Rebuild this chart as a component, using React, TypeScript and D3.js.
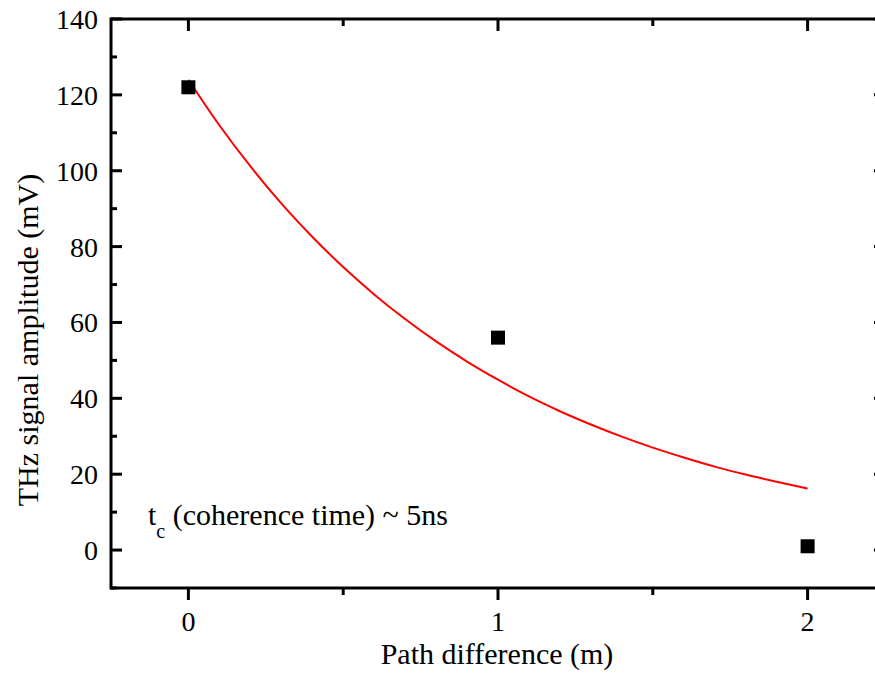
import React from "react";
import * as d3 from "d3";

const pathDiff = [0, 1, 2];
const amplitude = [122, 56, 1];

// fitted curve, values
const fitX = [0, 0.1, 0.2, 0.3, 0.4, 0.5, 0.6, 0.7, 0.8, 0.9, 1.0, 1.1, 1.2, 1.3, 1.4, 1.5, 1.6, 1.7, 1.8, 1.9, 2.0];
const fitY = [124, 112, 101.2, 91.4, 82.6, 74.6, 67.4, 60.9, 55, 49.7, 44.9, 40.5, 36.6, 33.1, 29.9, 27, 24.4, 22, 19.9, 18, 16.2];

const xMajor = [0, 1, 2];
const xMinor = [-0.5, 0.5, 1.5];
const yMajor = [0, 20, 40, 60, 80, 100, 120, 140];
const yMinor = [-10, 10, 30, 50, 70, 90, 110, 130];

const W = 875, H = 675;
const left = 111, right = 885, top = 19, bottom = 588;

export default function App() {
  const x = d3.scaleLinear().domain([-0.25, 2.25]).range([left, right]);
  const y = d3.scaleLinear().domain([-10, 140]).range([bottom, top]);
  const line = d3.line<number>().x((_, i) => x(fitX[i])).y((d) => y(d)).curve(d3.curveMonotoneX);
  const font = "Liberation Serif, DejaVu Serif, serif";
  const inX = (v: number) => v >= -0.25 && v <= 2.25;
  const inY = (v: number) => v >= -10 && v <= 140;
  const sq = 14;
  return (
    <svg width={W} height={H} style={{ position: "absolute", left: 0, top: 0, background: "#fff", fontFamily: font }}>
      <rect x={0} y={0} width={W} height={H} fill="#fff" />
      {/* fit curve */}
      <path d={line(fitY) || ""} fill="none" stroke="#ff0000" strokeWidth={2} />
      {/* points */}
      {pathDiff.map((d, i) => (
        <rect key={i} x={x(d) - sq / 2} y={y(amplitude[i]) - sq / 2} width={sq} height={sq} fill="#000" />
      ))}
      {/* frame */}
      <line x1={left} x2={right} y1={top} y2={top} stroke="#000" strokeWidth={3} />
      <line x1={left} x2={right} y1={bottom} y2={bottom} stroke="#000" strokeWidth={3} />
      <line x1={left} x2={left} y1={top - 1.5} y2={bottom + 1.5} stroke="#000" strokeWidth={3} />
      <line x1={right} x2={right} y1={top - 1.5} y2={bottom + 1.5} stroke="#000" strokeWidth={3} />
      {/* x ticks */}
      {xMajor.map((v) => (
        <g key={"xm" + v}>
          <line x1={x(v)} x2={x(v)} y1={bottom} y2={bottom + 12} stroke="#000" strokeWidth={3} />
          <line x1={x(v)} x2={x(v)} y1={top} y2={top + 12} stroke="#000" strokeWidth={3} />
          <text x={x(v)} y={631} textAnchor="middle" fontSize={28} style={{ fontFamily: font }}>{v}</text>
        </g>
      ))}
      {xMinor.filter(inX).map((v) => (
        <g key={"xn" + v}>
          <line x1={x(v)} x2={x(v)} y1={bottom} y2={bottom + 7} stroke="#000" strokeWidth={3} />
          <line x1={x(v)} x2={x(v)} y1={top} y2={top + 7} stroke="#000" strokeWidth={3} />
        </g>
      ))}
      {/* y ticks */}
      {yMajor.map((v) => (
        <g key={"ym" + v}>
          <line x1={left} x2={left + 11} y1={y(v)} y2={y(v)} stroke="#000" strokeWidth={3} />
          <line x1={right} x2={right - 11} y1={y(v)} y2={y(v)} stroke="#000" strokeWidth={3} />
          <text x={98} y={y(v) + 10} textAnchor="end" fontSize={28} style={{ fontFamily: font }}>{v}</text>
        </g>
      ))}
      {yMinor.filter(inY).map((v) => (
        <g key={"yn" + v}>
          <line x1={left} x2={left + 6} y1={y(v)} y2={y(v)} stroke="#000" strokeWidth={3} />
          <line x1={right} x2={right - 6} y1={y(v)} y2={y(v)} stroke="#000" strokeWidth={3} />
        </g>
      ))}
      {/* axis titles */}
      <text x={497} y={664} textAnchor="middle" fontSize={30} style={{ fontFamily: font }}>Path difference (m)</text>
      <text transform={`translate(38,340) rotate(-90)`} textAnchor="middle" fontSize={30} style={{ fontFamily: font }}>THz signal amplitude (mV)</text>
      {/* annotation */}
      <text x={148} y={525} fontSize={30} style={{ fontFamily: font }}>
        t<tspan fontSize={20} dy={13}>c</tspan><tspan dy={-13}> (coherence time) ~ 5ns</tspan>
      </text>
    </svg>
  );
}
